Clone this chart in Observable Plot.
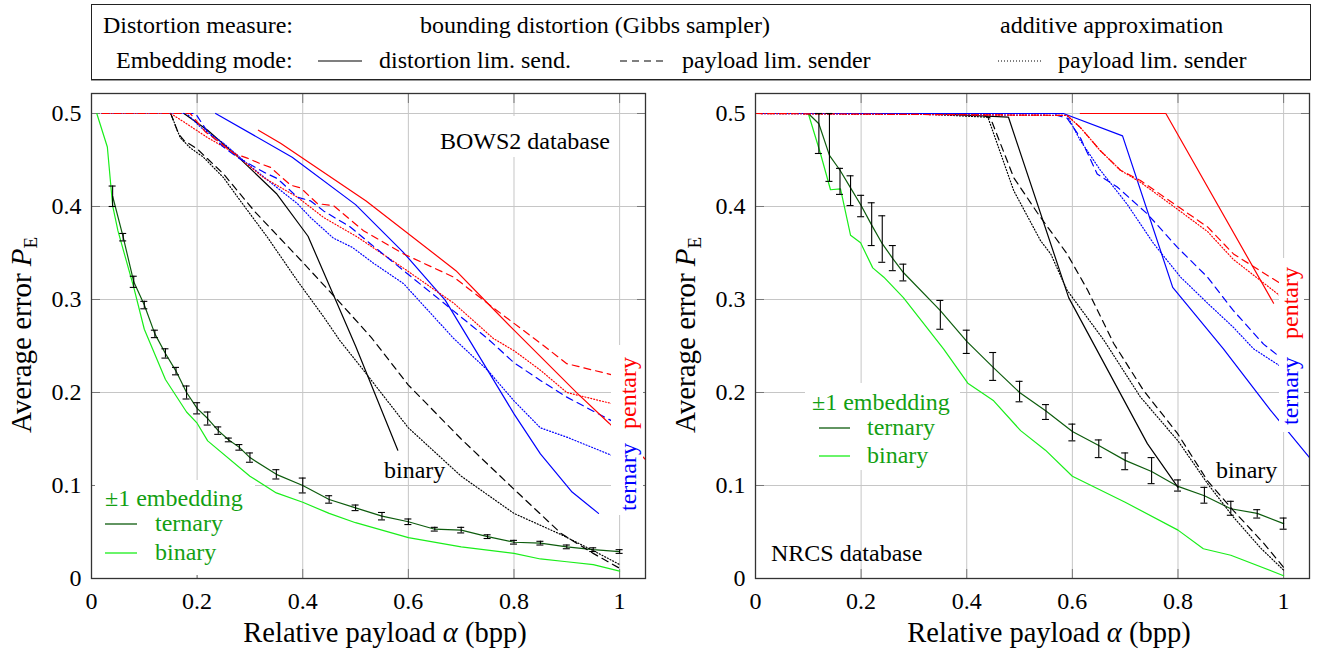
<!DOCTYPE html>
<html><head><meta charset="utf-8">
<script src="https://cdn.jsdelivr.net/npm/d3@7"></script>
<script src="https://cdn.jsdelivr.net/npm/@observablehq/plot@0.6"></script>
<style>
body{margin:0;background:#fff;font-family:"Liberation Serif","Times New Roman",serif;}
#page{position:relative;width:1320px;height:652px;overflow:hidden;background:#fff;}
.abs{position:absolute;white-space:nowrap;line-height:24px;font-size:24px;}
#hdr{position:absolute;left:91px;top:4px;width:1220px;height:76px;box-sizing:border-box;border:1.3px solid #222;box-shadow:0 1px 0 #999;}
.panel{position:absolute;top:85px;width:660px;height:567px;}
.wbox{position:absolute;background:#fff;}
.rot{position:absolute;font-size:24px;line-height:24px;white-space:nowrap;transform:translate(-50%,-50%) rotate(-90deg);}
</style></head>
<body><div id="page">
<div id="hdr">
 <span class="abs" style="left:11px;top:8px">Distortion measure:</span>
 <span class="abs" style="left:328px;top:8px">bounding distortion (Gibbs sampler)</span>
 <span class="abs" style="left:908px;top:8px">additive approximation</span>
 <span class="abs" style="left:24px;top:43px">Embedding mode:</span>
 <svg class="abs" style="left:226px;top:50px" width="44" height="12"><line x1="0" y1="6" x2="44" y2="6" stroke="#000" stroke-width="1.2"/></svg>
 <span class="abs" style="left:287px;top:43px">distortion lim. send.</span>
 <svg class="abs" style="left:528px;top:50px" width="45" height="12"><line x1="0" y1="6" x2="45" y2="6" stroke="#000" stroke-width="1.2" stroke-dasharray="7,5"/></svg>
 <span class="abs" style="left:590px;top:43px">payload lim. sender</span>
 <svg class="abs" style="left:906px;top:50px" width="45" height="12"><line x1="0" y1="6" x2="45" y2="6" stroke="#000" stroke-width="1.2" stroke-dasharray="1,2"/></svg>
 <span class="abs" style="left:966px;top:43px">payload lim. sender</span>
</div>
<div id="left" class="panel" style="left:0"></div>
<div id="right" class="panel" style="left:660px"></div>
</div>
<script>
// ---------- axes ----------
const xTicks = [0, 0.2, 0.4, 0.6, 0.8, 1];
const xTickLabels = ["0", "0.2", "0.4", "0.6", "0.8", "1"];
const yTicks = [0, 0.1, 0.2, 0.3, 0.4, 0.5];
const yTickLabels = ["0", "0.1", "0.2", "0.3", "0.4", "0.5"];

// ---------- BOWS2 database (left) ----------
const bowsPm1TerX = [0.04,0.06,0.08,0.10,0.12,0.14,0.16,0.18,0.20,0.22,0.24,0.26,0.28,0.30,0.35,0.40,0.45,0.50,0.55,0.60,0.65,0.70,0.75,0.80,0.85,0.90,0.95,1.00];
const bowsPm1TerY = [0.411,0.367,0.319,0.294,0.263,0.242,0.223,0.200,0.183,0.172,0.159,0.149,0.141,0.130,0.112,0.100,0.085,0.076,0.067,0.061,0.053,0.052,0.045,0.039,0.038,0.034,0.031,0.029];
const bowsPm1TerLo = [0.400,0.363,0.313,0.290,0.259,0.237,0.219,0.193,0.177,0.165,0.155,0.147,0.138,0.125,0.107,0.092,0.081,0.073,0.063,0.058,0.051,0.049,0.043,0.037,0.036,0.032,0.029,0.027];
const bowsPm1TerHi = [0.422,0.371,0.325,0.298,0.267,0.247,0.227,0.207,0.189,0.179,0.163,0.151,0.144,0.135,0.117,0.108,0.089,0.079,0.071,0.064,0.055,0.055,0.047,0.041,0.040,0.036,0.033,0.031];
const bowsPm1BinX = [0.01,0.03,0.04,0.05,0.08,0.10,0.14,0.18,0.20,0.22,0.30,0.35,0.40,0.45,0.50,0.60,0.70,0.80,0.85,0.90,0.95,1.00];
const bowsPm1BinY = [0.5,0.464,0.401,0.374,0.313,0.268,0.214,0.179,0.167,0.148,0.11,0.092,0.082,0.07,0.06,0.044,0.034,0.027,0.021,0.018,0.015,0.008];
const bowsBinDistX = [0.175,0.22,0.28,0.35,0.41,0.5,0.58];
const bowsBinDistY = [0.5,0.482,0.452,0.414,0.368,0.25,0.138];
const bowsBinPayX = [0.15,0.165,0.175,0.2,0.25,0.31,0.4,0.47,0.53,0.6,0.7,0.8,0.89,0.95,1.0];
const bowsBinPayY = [0.5,0.478,0.471,0.462,0.435,0.394,0.34,0.297,0.259,0.208,0.15,0.096,0.048,0.027,0.011];
const bowsBinAddX = [0.15,0.168,0.187,0.212,0.25,0.282,0.333,0.39,0.44,0.47,0.515,0.6,0.7,0.8,0.89,0.95,1.0];
const bowsBinAddY = [0.5,0.474,0.463,0.453,0.431,0.406,0.367,0.32,0.281,0.256,0.224,0.162,0.11,0.07,0.047,0.03,0.015];
const bowsTerDistX = [0.235,0.38,0.5,0.59,0.67,0.75,0.8,0.85,0.91,0.96];
const bowsTerDistY = [0.5,0.453,0.402,0.351,0.299,0.224,0.177,0.134,0.093,0.07];
const bowsTerPayX = [0.02,0.197,0.22,0.25,0.276,0.326,0.352,0.39,0.415,0.44,0.49,0.528,0.591,0.661,0.75,0.8,0.85,0.9,1.0];
const bowsTerPayY = [0.5,0.5,0.48,0.464,0.453,0.437,0.43,0.41,0.406,0.395,0.378,0.36,0.331,0.299,0.258,0.232,0.213,0.195,0.165];
const bowsTerAddX = [0.02,0.18,0.207,0.25,0.295,0.352,0.39,0.415,0.458,0.494,0.534,0.591,0.686,0.75,0.8,0.85,0.9,1.0];
const bowsTerAddY = [0.5,0.5,0.485,0.468,0.446,0.42,0.403,0.388,0.366,0.356,0.339,0.317,0.258,0.224,0.191,0.162,0.152,0.129];
const bowsPenDistX = [0.316,0.358,0.52,0.69,0.75,0.8,0.92,0.98,1.049];
const bowsPenDistY = [0.482,0.468,0.406,0.331,0.296,0.267,0.199,0.167,0.128];
const bowsPenPayX = [0.02,0.187,0.216,0.238,0.27,0.295,0.32,0.339,0.377,0.396,0.428,0.458,0.515,0.591,0.686,0.761,0.85,0.9,1.0];
const bowsPenPayY = [0.5,0.5,0.48,0.471,0.457,0.452,0.446,0.442,0.423,0.42,0.403,0.401,0.374,0.349,0.324,0.291,0.253,0.231,0.217];
const bowsPenAddX = [0.02,0.15,0.18,0.22,0.263,0.326,0.39,0.44,0.504,0.59,0.686,0.761,0.8,0.85,0.9,1.0];
const bowsPenAddY = [0.5,0.5,0.489,0.474,0.46,0.431,0.41,0.388,0.367,0.334,0.296,0.258,0.245,0.224,0.2,0.186];

// ---------- NRCS database (right) ----------
const nrcsPm1TerX = [0,0.1,0.12,0.14,0.16,0.18,0.2,0.22,0.24,0.26,0.28,0.35,0.4,0.45,0.5,0.55,0.6,0.65,0.7,0.75,0.8,0.85,0.9,0.95,1.0];
const nrcsPm1TerY = [0.5,0.5,0.489,0.455,0.439,0.42,0.401,0.38,0.36,0.344,0.329,0.288,0.255,0.227,0.2,0.18,0.158,0.143,0.127,0.115,0.099,0.089,0.075,0.07,0.059];
const nrcsBarX = [0.12,0.14,0.16,0.18,0.2,0.22,0.24,0.26,0.28,0.35,0.4,0.45,0.5,0.55,0.6,0.65,0.7,0.75,0.8,0.85,0.9,0.95,1.0];
const nrcsBarLo = [0.457,0.427,0.413,0.401,0.389,0.358,0.34,0.331,0.32,0.268,0.242,0.213,0.19,0.171,0.148,0.13,0.117,0.102,0.094,0.081,0.068,0.065,0.053];
const nrcsBarHi = [0.5,0.5,0.441,0.433,0.412,0.404,0.39,0.358,0.338,0.299,0.267,0.243,0.212,0.187,0.166,0.149,0.135,0.13,0.106,0.098,0.083,0.074,0.065];
const nrcsPm1BinX = [0,0.1,0.123,0.142,0.161,0.18,0.199,0.222,0.243,0.28,0.356,0.402,0.451,0.502,0.549,0.6,0.7,0.8,0.848,0.9,1.0];
const nrcsPm1BinY = [0.5,0.5,0.457,0.418,0.419,0.369,0.361,0.334,0.324,0.302,0.247,0.21,0.191,0.159,0.138,0.11,0.082,0.052,0.032,0.025,0.003];
const nrcsBinDistX = [0,0.33,0.479,0.593,0.742,0.8];
const nrcsBinDistY = [0.5,0.5,0.496,0.302,0.145,0.098];
const nrcsBinPayX = [0,0.3,0.432,0.445,0.489,0.534,0.59,0.629,0.678,0.735,0.799,0.856,0.905,0.962,1.0];
const nrcsBinPayY = [0.5,0.5,0.498,0.495,0.431,0.393,0.349,0.31,0.253,0.202,0.156,0.105,0.073,0.038,0.012];
const nrcsBinAddX = [0,0.3,0.44,0.489,0.54,0.559,0.59,0.66,0.729,0.8,0.856,0.905,0.956,1.0];
const nrcsBinAddY = [0.5,0.5,0.496,0.417,0.363,0.349,0.31,0.256,0.195,0.148,0.102,0.066,0.033,0.009];
const nrcsTerDistX = [0,0.583,0.695,0.79,0.886,0.975,1.049];
const nrcsTerDistY = [0.5,0.5,0.476,0.313,0.247,0.181,0.13];
const nrcsTerPayX = [0,0.559,0.59,0.615,0.647,0.685,0.742,0.799,0.856,0.905,0.962,1.0];
const nrcsTerPayY = [0.5,0.5,0.495,0.474,0.435,0.421,0.392,0.356,0.324,0.288,0.252,0.235];
const nrcsTerAddX = [0,0.59,0.615,0.653,0.703,0.754,0.805,0.856,0.905,0.943,1.0];
const nrcsTerAddY = [0.5,0.498,0.471,0.439,0.403,0.36,0.324,0.296,0.27,0.247,0.226];
const nrcsPenDistX = [0.615,0.777,0.981];
const nrcsPenDistY = [0.5,0.5,0.296];
const nrcsPenPayX = [0,0.59,0.615,0.653,0.691,0.729,0.792,0.856,0.905,1.0];
const nrcsPenPayY = [0.5,0.498,0.485,0.46,0.439,0.428,0.403,0.378,0.349,0.315];
const nrcsPenAddX = [0,0.59,0.615,0.653,0.691,0.729,0.792,0.856,0.905,1.0];
const nrcsPenAddY = [0.5,0.498,0.485,0.46,0.439,0.426,0.4,0.373,0.343,0.301];

// in-plot annotation labels
const bowsLabels = [{text: "binary", x: 0.612, y: 0.116}];
const nrcsLabels = [{text: "binary", x: 0.93, y: 0.116}];

// ---------- styles ----------
const GRID = "#c6c6c6", FRAME = "#333", TICK = "#777";
const RED = "#ff0000", BLUE = "#0000ff", BLACK = "#000000";
const DKGREEN = "#0d5c0d", LTGREEN = "#1aee1a", TXTGREEN = "#139f13";
const DASH = "7,5", DOT = "1,2";

const pairs = (xs, ys) => xs.map((x, i) => ({x, y: ys[i]}));
const barRows = (xs, lo, hi) => xs.map((x, i) => ({x, lo: lo[i], hi: hi[i]}));

function makePanel(cfg) {
  const lineMarks = cfg.series.map(s => Plot.line(pairs(s.x, s.y), {
    x: "x", y: "y", stroke: s.color, strokeWidth: 1.2, strokeDasharray: s.dash || null
  }));
  const bars = barRows(cfg.barX, cfg.barLo, cfg.barHi);
  const fx = d => xTickLabels[xTicks.indexOf(d)];
  const fy = d => yTickLabels[yTicks.indexOf(d)];
  const blank = () => "";
  const plot = Plot.plot({
    width: 660, height: 567,
    marginLeft: cfg.ml, marginRight: cfg.mr, marginTop: 8, marginBottom: 74,
    x: {domain: [0, 1.049]},
    y: {domain: [0, 0.5215]},
    style: {fontFamily: "'Liberation Serif', 'Times New Roman', serif", fontSize: "24px", color: "black", background: "white", overflow: "visible"},
    marks: [
      Plot.gridX(xTicks, {stroke: GRID, strokeOpacity: 1, strokeWidth: 1}),
      Plot.gridY(yTicks, {stroke: GRID, strokeOpacity: 1, strokeWidth: 1}),
      Plot.axisX(xTicks, {anchor: "bottom", tickSize: -9, tickFormat: blank, label: null, stroke: TICK}),
      Plot.axisX(xTicks, {anchor: "top", tickSize: -9, tickFormat: blank, label: null, stroke: TICK}),
      Plot.axisY(yTicks, {anchor: "left", tickSize: -9, tickFormat: blank, label: null, stroke: TICK}),
      Plot.axisY(yTicks, {anchor: "right", tickSize: -9, tickFormat: blank, label: null, stroke: TICK}),
      Plot.axisX(xTicks, {anchor: "bottom", tickSize: 0, tickPadding: 13, tickFormat: fx, label: null, fontSize: 24}),
      Plot.axisY(yTicks, {anchor: "left", tickSize: 0, tickPadding: 10, tickFormat: fy, label: null, fontSize: 24}),
      ...lineMarks,
      Plot.ruleX(bars, {x: "x", y1: "lo", y2: "hi", stroke: BLACK, strokeWidth: 1.1}),
      Plot.ruleY(bars, {y: "lo", x1: "x", x2: "x", insetLeft: -3.5, insetRight: -3.5, stroke: BLACK, strokeWidth: 1.1}),
      Plot.ruleY(bars, {y: "hi", x1: "x", x2: "x", insetLeft: -3.5, insetRight: -3.5, stroke: BLACK, strokeWidth: 1.1}),
      Plot.text(cfg.labels, {x: "x", y: "y", text: "text", fill: BLACK, fontSize: 24}),
      Plot.frame({stroke: FRAME, strokeWidth: 1.3})
    ]
  });
  const svg = d3.select(plot);
  const plotCx = (cfg.ml + 660 - cfg.mr) / 2 + 17;
  const xl = svg.append("text").attr("x", plotCx).attr("y", 557).attr("text-anchor", "middle")
    .attr("font-size", 28.5).attr("fill", "black");
  xl.append("tspan").text("Relative payload ");
  xl.append("tspan").attr("font-style", "italic").text("α");
  xl.append("tspan").text(" (bpp)");
  const yl = svg.append("text").attr("transform", `translate(${cfg.ylx},250) rotate(-90)`)
    .attr("text-anchor", "middle").attr("font-size", 29).attr("fill", "black");
  yl.append("tspan").text("Average error ");
  yl.append("tspan").attr("font-style", "italic").text("P");
  yl.append("tspan").attr("font-size", 19).attr("dy", 6).text("E");
  return plot;
}

function series(list) { return list.map(([x, y, color, dash]) => ({x, y, color, dash})); }

const left = makePanel({
  ml: 91, mr: 15, ylx: 31,
  series: series([
    [bowsPm1BinX, bowsPm1BinY, LTGREEN],
    [bowsPm1TerX, bowsPm1TerY, DKGREEN],
    [bowsBinDistX, bowsBinDistY, BLACK],
    [bowsBinAddX, bowsBinAddY, BLACK, DOT],
    [bowsBinPayX, bowsBinPayY, BLACK, DASH],
    [bowsTerDistX, bowsTerDistY, BLUE],
    [bowsTerAddX, bowsTerAddY, BLUE, DOT],
    [bowsPenAddX, bowsPenAddY, RED, DOT],
    [bowsTerPayX, bowsTerPayY, BLUE, DASH],
    [bowsPenDistX, bowsPenDistY, RED],
    [bowsPenPayX, bowsPenPayY, RED, DASH]
  ]),
  barX: bowsPm1TerX, barLo: bowsPm1TerLo, barHi: bowsPm1TerHi,
  labels: bowsLabels
});
const right = makePanel({
  ml: 95, mr: 11, ylx: 35,
  series: series([
    [nrcsPm1BinX, nrcsPm1BinY, LTGREEN],
    [nrcsPm1TerX, nrcsPm1TerY, DKGREEN],
    [nrcsBinDistX, nrcsBinDistY, BLACK],
    [nrcsBinAddX, nrcsBinAddY, BLACK, DOT],
    [nrcsBinPayX, nrcsBinPayY, BLACK, DASH],
    [nrcsTerDistX, nrcsTerDistY, BLUE],
    [nrcsTerAddX, nrcsTerAddY, BLUE, DOT],
    [nrcsPenAddX, nrcsPenAddY, RED, DOT],
    [nrcsTerPayX, nrcsTerPayY, BLUE, DASH],
    [nrcsPenDistX, nrcsPenDistY, RED],
    [nrcsPenPayX, nrcsPenPayY, RED, DASH]
  ]),
  barX: nrcsBarX, barLo: nrcsBarLo, barHi: nrcsBarHi,
  labels: nrcsLabels
});

const leftDiv = document.getElementById("left");
const rightDiv = document.getElementById("right");
leftDiv.appendChild(left);
rightDiv.appendChild(right);

function legendLine(l, t, w, color) {
  return `<svg class="abs" style="left:${l}px;top:${t}px" width="${w}" height="12"><line x1="0" y1="6" x2="${w}" y2="6" stroke="${color}" stroke-width="1.3"/></svg>`;
}

leftDiv.insertAdjacentHTML("beforeend", `
  <div class="wbox" style="left:436px;top:31px;width:178px;height:41px">
    <span class="abs" style="left:4px;top:13px">BOWS2 database</span>
  </div>
  <div class="wbox" style="left:95px;top:395px;width:160px;height:95px;color:${TXTGREEN}">
    <span class="abs" style="left:10px;top:6px">±1 embedding</span>
    ${legendLine(10, 38, 32, DKGREEN)}
    <span class="abs" style="left:60px;top:31px">ternary</span>
    ${legendLine(10, 67, 32, LTGREEN)}
    <span class="abs" style="left:60px;top:60px">binary</span>
  </div>
  <div class="wbox" style="left:611px;top:260px;width:32px;height:170px"></div>
  <div class="rot" style="left:628px;top:308px;color:${RED}">pentary</div>
  <div class="rot" style="left:628px;top:392px;color:${BLUE}">ternary</div>
`);
rightDiv.insertAdjacentHTML("beforeend", `
  <div class="wbox" style="left:145px;top:298px;width:155px;height:87px;color:${TXTGREEN}">
    <span class="abs" style="left:7px;top:7px">±1 embedding</span>
    ${legendLine(14, 39, 31, DKGREEN)}
    <span class="abs" style="left:62px;top:32px">ternary</span>
    ${legendLine(14, 67, 31, LTGREEN)}
    <span class="abs" style="left:62px;top:60px">binary</span>
  </div>
  <span class="abs" style="left:111px;top:456px">NRCS database</span>
  <div class="wbox" style="left:619px;top:173px;width:25px;height:174px"></div>
  <div class="rot" style="left:630px;top:218px;color:${RED}">pentary</div>
  <div class="rot" style="left:630px;top:306px;color:${BLUE}">ternary</div>
`);
</script>
</body></html>
